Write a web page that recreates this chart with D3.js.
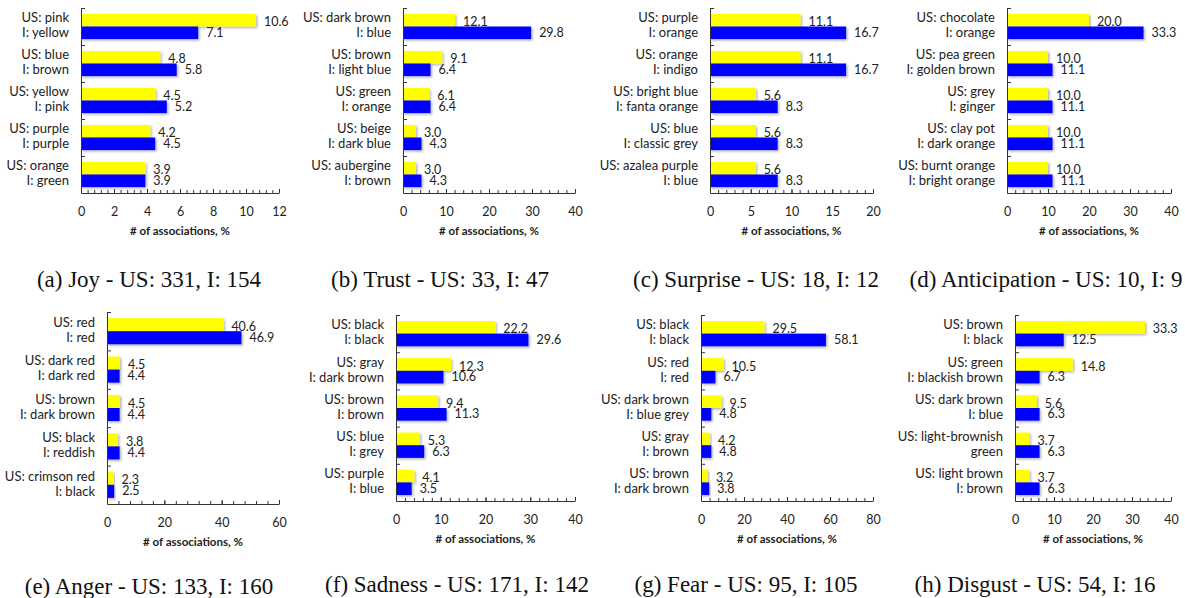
<!DOCTYPE html>
<html>
<head>
<meta charset="utf-8">
<script src="https://cdn.jsdelivr.net/npm/d3@7"></script>
<style>
    body { margin: 0; background: #fff; }
    svg text { font-family: Lato, "Open Sans", sans-serif; fill: #222; }
    .caption { font-family: "Liberation Serif", "Times New Roman", serif; fill: #111; }
</style>
</head>
<body>
<div id="chart"></div>
<script>
// data, one set of arrays per emotion
const joyLabels = [["US: pink", "I: yellow"], ["US: blue", "I: brown"], ["US: yellow", "I: pink"], ["US: purple", "I: purple"], ["US: orange", "I: green"]];
const joyUS = [10.6, 4.8, 4.5, 4.2, 3.9];
const joyI = [7.1, 5.8, 5.2, 4.5, 3.9];

const trustLabels = [["US: dark brown", "I: blue"], ["US: brown", "I: light blue"], ["US: green", "I: orange"], ["US: beige", "I: dark blue"], ["US: aubergine", "I: brown"]];
const trustUS = [12.1, 9.1, 6.1, 3.0, 3.0];
const trustI = [29.8, 6.4, 6.4, 4.3, 4.3];

const surpriseLabels = [["US: purple", "I: orange"], ["US: orange", "I: indigo"], ["US: bright blue", "I: fanta orange"], ["US: blue", "I: classic grey"], ["US: azalea purple", "I: blue"]];
const surpriseUS = [11.1, 11.1, 5.6, 5.6, 5.6];
const surpriseI = [16.7, 16.7, 8.3, 8.3, 8.3];

const anticipationLabels = [["US: chocolate", "I: orange"], ["US: pea green", "I: golden brown"], ["US: grey", "I: ginger"], ["US: clay pot", "I: dark orange"], ["US: burnt orange", "I: bright orange"]];
const anticipationUS = [20.0, 10.0, 10.0, 10.0, 10.0];
const anticipationI = [33.3, 11.1, 11.1, 11.1, 11.1];

const angerLabels = [["US: red", "I: red"], ["US: dark red", "I: dark red"], ["US: brown", "I: dark brown"], ["US: black", "I: reddish"], ["US: crimson red", "I: black"]];
const angerUS = [40.6, 4.5, 4.5, 3.8, 2.3];
const angerI = [46.9, 4.4, 4.4, 4.4, 2.5];

const sadnessLabels = [["US: black", "I: black"], ["US: gray", "I: dark brown"], ["US: brown", "I: brown"], ["US: blue", "I: grey"], ["US: purple", "I: blue"]];
const sadnessUS = [22.2, 12.3, 9.4, 5.3, 4.1];
const sadnessI = [29.6, 10.6, 11.3, 6.3, 3.5];

const fearLabels = [["US: black", "I: black"], ["US: red", "I: red"], ["US: dark brown", "I: blue grey"], ["US: gray", "I: brown"], ["US: brown", "I: dark brown"]];
const fearUS = [29.5, 10.5, 9.5, 4.2, 3.2];
const fearI = [58.1, 6.7, 4.8, 4.8, 3.8];

const disgustLabels = [["US: brown", "I: black"], ["US: green", "I: blackish brown"], ["US: dark brown", "I: blue"], ["US: light-brownish", "green"], ["US: light brown", "I: brown"]];
const disgustUS = [33.3, 14.8, 5.6, 3.7, 3.7];
const disgustI = [12.5, 6.3, 6.3, 6.3, 6.3];

const captions = [
    "(a) Joy - US: 331, I: 154",
    "(b) Trust - US: 33, I: 47",
    "(c) Surprise - US: 18, I: 12",
    "(d) Anticipation - US: 10, I: 9",
    "(e) Anger - US: 133, I: 160",
    "(f) Sadness - US: 171, I: 142",
    "(g) Fear - US: 95, I: 105",
    "(h) Disgust - US: 54, I: 16"
];
const axisMax = [12, 40, 20, 40, 60, 40, 80, 40];
const axisStep = [2, 10, 5, 10, 20, 10, 20, 10];
const axisTitle = "# of associations, %";

const panels = [
    [joyLabels, joyUS, joyI],
    [trustLabels, trustUS, trustI],
    [surpriseLabels, surpriseUS, surpriseI],
    [anticipationLabels, anticipationUS, anticipationI],
    [angerLabels, angerUS, angerI],
    [sadnessLabels, sadnessUS, sadnessI],
    [fearLabels, fearUS, fearI],
    [disgustLabels, disgustUS, disgustI]
];

// where each small chart sits on the page
const layout = [
    {x0: 81, x1: 279, top: 8, bottom: 193, capX: 149, capY: 287},
    {x0: 403, x1: 575, top: 8, bottom: 193, capX: 440, capY: 287},
    {x0: 710, x1: 873, top: 8, bottom: 193, capX: 756, capY: 287},
    {x0: 1007, x1: 1171, top: 8, bottom: 193, capX: 1046, capY: 287},
    {x0: 107, x1: 279, top: 312, bottom: 504, capX: 149, capY: 594},
    {x0: 396, x1: 575, top: 315, bottom: 501, capX: 457, capY: 592},
    {x0: 701, x1: 873, top: 315, bottom: 501, capX: 746, capY: 592},
    {x0: 1015, x1: 1171, top: 315, bottom: 501, capX: 1035, capY: 592}
];

const width = 1185;
const height = 598;

const svg = d3.select('#chart')
    .append('svg')
    .attr('width', width)
    .attr('height', height);

const shadow = svg.append('defs')
    .append('filter')
    .attr('id', 'shadow')
    .attr('x', '-10%').attr('y', '-30%')
    .attr('width', '130%').attr('height', '180%');
shadow.append('feDropShadow')
    .attr('dx', 1.5)
    .attr('dy', 1.5)
    .attr('stdDeviation', 1)
    .attr('flood-color', '#000')
    .attr('flood-opacity', 0.3);

panels.forEach(([labels, us, ind], i) => {
    const L = layout[i];
    const rows = labels.map((l, j) => ({label: l, us: us[j], i: ind[j]}));

    const x = d3.scaleLinear().domain([0, axisMax[i]]).range([L.x0, L.x1]);
    const y = d3.scaleBand()
        .domain(d3.range(rows.length))
        .range([L.top, L.bottom])
        .paddingInner(0.32)
        .paddingOuter(0.16);
    const sub = d3.scaleBand().domain(['us', 'i']).range([0, y.bandwidth()]);
    const yEdges = d3.scaleLinear().domain([0, rows.length]).range([L.top, L.bottom]);

    const g = svg.append('g').attr('class', 'panel');

    // bars
    const series = [
        {key: 'us', color: '#ffff00', dy: 3},
        {key: 'i', color: '#0000ff', dy: 1}
    ];
    series.forEach(s => {
        g.selectAll('rect.' + s.key)
            .data(rows)
            .join('rect')
            .attr('class', s.key)
            .attr('x', x(0))
            .attr('y', (d, j) => y(j) + sub(s.key))
            .attr('width', d => x(d[s.key]) - x(0))
            .attr('height', sub.bandwidth())
            .attr('fill', s.color)
            .attr('filter', 'url(#shadow)');

        g.selectAll('text.v' + s.key)
            .data(rows)
            .join('text')
            .attr('class', 'v' + s.key)
            .attr('x', d => x(d[s.key]) + 8)
            .attr('y', (d, j) => y(j) + sub(s.key) + sub.bandwidth() / 2 + s.dy)
            .attr('dominant-baseline', 'middle')
            .style('font-size', '12.5px')
            .text(d => d3.format('.1f')(d[s.key]));
    });

    // category labels, two lines
    const cat = g.selectAll('text.cat')
        .data(rows)
        .join('text')
        .attr('class', 'cat')
        .attr('text-anchor', 'end')
        .style('font-size', '13px');
    [-7.5, 7.5].forEach((off, n) => {
        cat.append('tspan')
            .attr('x', L.x0 - 12)
            .attr('y', (d, j) => y(j) + y.bandwidth() / 2 + off)
            .attr('dominant-baseline', 'middle')
            .text(d => d.label[n]);
    });

    // x axis with inside ticks
    const major = d3.range(0, axisMax[i] + axisStep[i] / 2, axisStep[i]);
    const minor = d3.range(0, axisMax[i] + axisStep[i] / 10, axisStep[i] / 5);
    const xMinor = g.append('g')
        .attr('transform', `translate(0,${L.bottom})`)
        .call(d3.axisBottom(x).tickValues(minor).tickSize(-3).tickSizeOuter(0).tickFormat(''));
    xMinor.select('.domain').remove();
    const xAxis = g.append('g')
        .attr('transform', `translate(0,${L.bottom})`)
        .call(d3.axisBottom(x).tickValues(major).tickSize(-4).tickSizeOuter(0).tickPadding(14));
    xAxis.selectAll('text').style('font-size', '12.5px').attr('fill', '#222');
    g.selectAll('.tick line, .domain').attr('stroke', '#333');

    // y axis: line with ticks at category edges
    g.append('g')
        .attr('transform', `translate(${L.x0},0)`)
        .call(d3.axisLeft(yEdges).tickValues(d3.range(rows.length)).tickSize(-4).tickSizeOuter(0).tickFormat(''))
        .selectAll('.tick line, .domain').attr('stroke', '#333');

    g.append('text')
        .attr('x', (L.x0 + L.x1) / 2)
        .attr('y', L.bottom + 39)
        .attr('text-anchor', 'middle')
        .attr('dominant-baseline', 'middle')
        .style('font-size', '11.5px')
        .style('font-weight', 'bold')
        .text(axisTitle);

    g.append('text')
        .attr('class', 'caption')
        .attr('x', L.capX)
        .attr('y', L.capY)
        .attr('text-anchor', 'middle')
        .style('font-size', '23px')
        .text(captions[i]);
});
</script>
</body>
</html>
